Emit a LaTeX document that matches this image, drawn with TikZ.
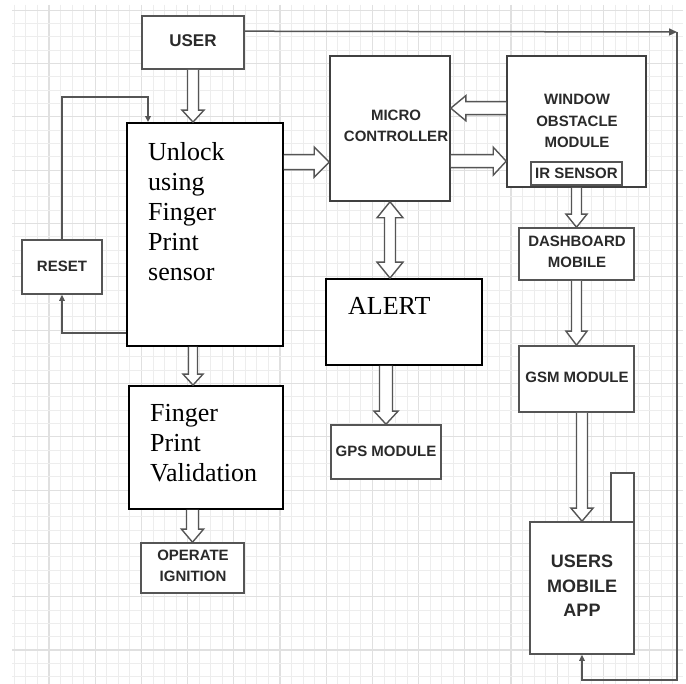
\documentclass[tikz,border=0pt]{standalone}
\usepackage{fontspec}
\setmainfont{Liberation Serif}
\setsansfont{Liberation Sans}
\usetikzlibrary{calc,arrows.meta}
\definecolor{lc}{HTML}{555555}
\definecolor{tc}{HTML}{2A2A2A}
\definecolor{gmin}{HTML}{EDEDED}
\definecolor{gmaj}{HTML}{E0E0E0}
\tikzset{
  gbox/.style={draw=lc, line width=1.6pt, fill=white, inner sep=0pt},
  kbox/.style={draw=black, line width=1.8pt, fill=white, inner sep=0pt},
  lbl/.style={font=\sffamily\bfseries\fontsize{15}{21.5}\selectfont, text=tc, align=center, inner sep=0pt},
  serif/.style={font=\rmfamily\fontsize{26}{30}\selectfont, text=black, align=left, inner sep=0pt},
  thinarrow/.style={draw=lc, line width=1.5pt, -{Triangle[length=6pt,width=5.5pt]}},
  harrow/.style={draw=lc, line width=1.4pt, fill=white},
  hollow/.style n args={3}{to path={
    let \p1=(\tikztostart), \p2=(\tikztotarget), \n1={veclen(\x2-\x1,\y2-\y1)},
        \n2={(\x2-\x1)/\n1}, \n3={(\y2-\y1)/\n1} in
    ({\x1-#1*\n3},{\y1+#1*\n2}) -- ({\x2-#3*\n2-#1*\n3},{\y2-#3*\n3+#1*\n2})
    -- ({\x2-#3*\n2-#2*\n3},{\y2-#3*\n3+#2*\n2}) -- (\x2,\y2)
    -- ({\x2-#3*\n2+#2*\n3},{\y2-#3*\n3-#2*\n2}) -- ({\x2-#3*\n2+#1*\n3},{\y2-#3*\n3-#1*\n2})
    -- ({\x1+#1*\n3},{\y1-#1*\n2})
  }},
  hollowboth/.style n args={3}{to path={
    let \p1=(\tikztostart), \p2=(\tikztotarget), \n1={veclen(\x2-\x1,\y2-\y1)},
        \n2={(\x2-\x1)/\n1}, \n3={(\y2-\y1)/\n1} in
    (\x1,\y1) -- ({\x1+#3*\n2-#2*\n3},{\y1+#3*\n3+#2*\n2})
    -- ({\x1+#3*\n2-#1*\n3},{\y1+#3*\n3+#1*\n2})
    -- ({\x2-#3*\n2-#1*\n3},{\y2-#3*\n3+#1*\n2})
    -- ({\x2-#3*\n2-#2*\n3},{\y2-#3*\n3+#2*\n2}) -- (\x2,\y2)
    -- ({\x2-#3*\n2+#2*\n3},{\y2-#3*\n3-#2*\n2})
    -- ({\x2-#3*\n2+#1*\n3},{\y2-#3*\n3-#1*\n2})
    -- ({\x1+#3*\n2+#1*\n3},{\y1+#3*\n3-#1*\n2})
    -- ({\x1+#3*\n2+#2*\n3},{\y1+#3*\n3-#2*\n2}) -- (\x1,\y1)
  }}
}
\begin{document}
\begin{tikzpicture}[x=1pt,y=-1pt]
\useasboundingbox (0,0) rectangle (686,684);
\fill[white] (0,0) rectangle (686,684);
% grid
\foreach \k in {1,...,58}{
  \pgfmathtruncatemacro\m{mod(\k,4)}
  \ifnum\m=0 \draw[gmaj, line width=1.1pt] ({2.8+11.55*\k},5) -- ({2.8+11.55*\k},684);
  \else \draw[gmin, line width=0.9pt] ({2.8+11.55*\k},5) -- ({2.8+11.55*\k},684); \fi
}
\foreach \j in {0,...,50}{
  \pgfmathtruncatemacro\m{mod(\j,4)}
  \ifnum\m=0 \draw[gmaj, line width=1.1pt] (12,{10.2+13.33*\j}) -- (683,{10.2+13.33*\j});
  \else \draw[gmin, line width=0.9pt] (12,{10.2+13.33*\j}) -- (683,{10.2+13.33*\j}); \fi
}

% boxes
\node[gbox, minimum width=102, minimum height=53] (user) at (193,42.5) {};
\node[lbl, font=\sffamily\bfseries\fontsize{17}{20}\selectfont] (usertxt) at (193,41) {USER};

\node[kbox, minimum width=156, minimum height=223] (unlock) at (205,234.5) {};
\node[serif, anchor=north west] (unlocktxt) at (148,142) {Unlock\\using\\Finger\\Print\\sensor};

\node[gbox, minimum width=80, minimum height=54] (reset) at (62,267) {};
\node[lbl] (resettxt) at (62,266.5) {RESET};

\node[kbox, minimum width=154, minimum height=123] (valid) at (206,447.5) {};
\node[serif, anchor=north west] (validtxt) at (150,404) {Finger\\Print\\Validation};

\node[gbox, minimum width=103, minimum height=50] (op) at (192.5,568) {};
\node[lbl] (optxt) at (193,566) {OPERATE\\IGNITION};

\node[gbox, draw=black!75, minimum width=120, minimum height=145] (mc) at (390,128.5) {};
\node[lbl] (mctxt) at (396,126) {MICRO\\CONTROLLER};

\node[gbox, draw=black!75, minimum width=139, minimum height=131] (win) at (576.5,121.5) {};
\node[lbl] (wintxt) at (577,121) {WINDOW\\OBSTACLE\\MODULE};
\node[gbox, minimum width=91, minimum height=23] (ir) at (576.5,173.5) {};
\node[lbl] (irtxt) at (576.5,173.5) {IR SENSOR};

\node[kbox, minimum width=156, minimum height=86] (alert) at (404,322) {};
\node[font=\rmfamily\fontsize{26}{30}\selectfont, anchor=base west, inner sep=0pt] (alerttxt) at (348,315) {ALERT};

\node[gbox, minimum width=110, minimum height=54] (gps) at (386,452) {};
\node[lbl] (gpstxt) at (386,451) {GPS MODULE};

\node[gbox, minimum width=115, minimum height=52] (dash) at (576.5,254) {};
\node[lbl] (dashtxt) at (577,252) {DASHBOARD\\MOBILE};

\node[gbox, minimum width=115, minimum height=66] (gsm) at (576.5,379) {};
\node[lbl] (gsmtxt) at (577,377) {GSM MODULE};

\node[gbox, minimum width=23, minimum height=50] (ant) at (622.5,498) {};
\node[gbox, minimum width=104, minimum height=132] (app) at (582,588) {};
\node[lbl, font=\sffamily\bfseries\fontsize{18}{24.5}\selectfont] (apptxt) at (582,586) {USERS\\MOBILE\\APP};

% hollow block arrows
\draw[harrow] (user.south) to[hollow={5.5}{11}{12}] (user.south |- unlock.north);
\draw[harrow] ($(unlock.north east)+(0,40)$) to[hollow={7.5}{15}{15}] ($(mc.north west)+(0,107)$);
\draw[harrow] ($(win.north west)+(0,53)$) to[hollow={6.5}{12.5}{15}] ($(mc.north east)+(0,53)$);
\draw[harrow] ($(mc.north east)+(0,106)$) to[hollow={6.5}{14}{13}] ($(win.north west)+(0,106)$);
\draw[harrow] (mc.south) to[hollowboth={5.5}{13}{16}] (mc.south |- alert.north);
\draw[harrow] (ir.south |- win.south) to[hollow={5}{10.5}{13}] (ir.south |- dash.north);
\draw[harrow] (dash.south) to[hollow={5}{10.5}{14}] (dash.south |- gsm.north);
\draw[harrow] (app.north |- gsm.south) to[hollow={5.5}{11}{13}] (app.north);
\draw[harrow] (gps.north |- alert.south) to[hollow={6.5}{12}{13}] (gps.north);
\draw[harrow] (user.south |- unlock.south) to[hollow={4.5}{10}{11}] (user.south |- valid.north);
\draw[harrow] (op.north |- valid.south) to[hollow={6}{11}{13}] (op.north);

% thin connectors
\coordinate (tr) at (677,32);
\coordinate (br) at (677,680);
\coordinate (rt) at (148,97);
\draw[thinarrow, -{Triangle[length=8pt,width=7pt]}] ($(user.north east)+(0,16)$) -- (tr);
\draw[thinarrow] (tr) -- (br) -| (app.south);
\draw[thinarrow] ($(unlock.south west)+(0,-14)$) -| (reset.south);
\draw[thinarrow] (reset.north) |- (rt) -- (rt |- unlock.north);
\end{tikzpicture}
\end{document}
